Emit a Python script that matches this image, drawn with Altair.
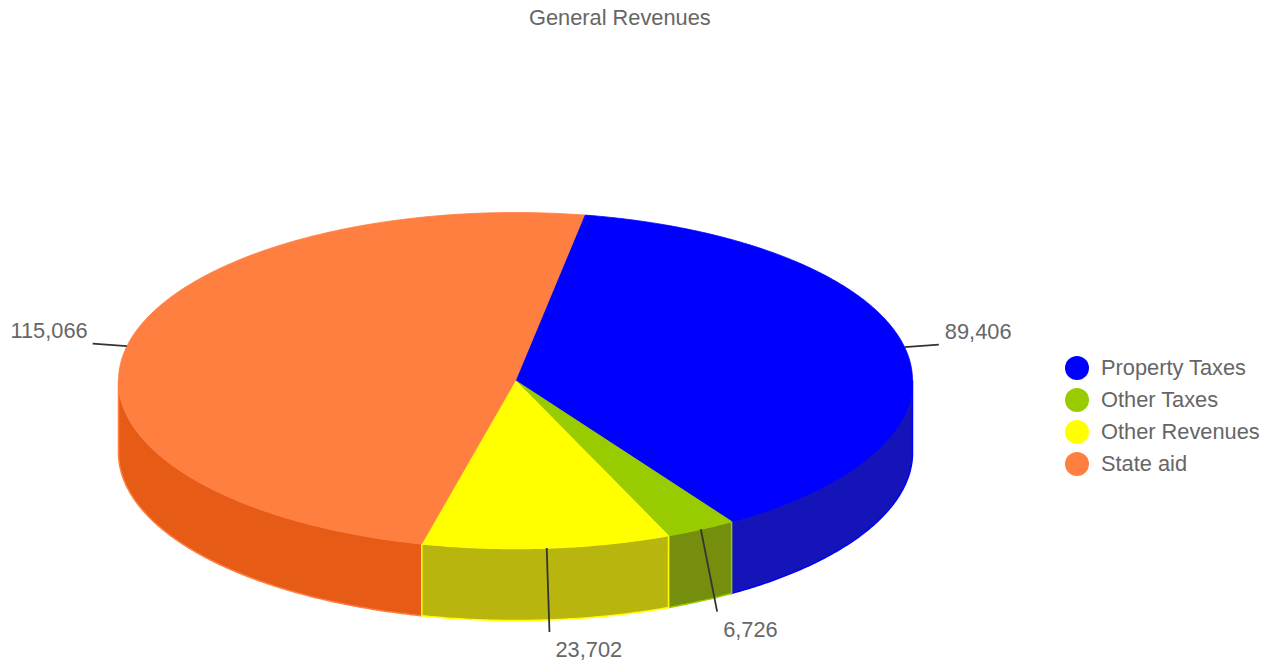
import math
import altair as alt

names = ["Property Taxes", "Other Taxes", "Other Revenues", "State aid"]
values = [89406, 6726, 23702, 115066]
top_colors = ["#0000FF", "#99CC00", "#FFFF00", "#FF7F41"]
side_colors = ["#1414B8", "#758E0D", "#B8B50F", "#E65C17"]
# walls are painted in this order so the lighter edges stay on top
side_order = [3, 0, 1, 2]

W, H = 1273, 661
CX, CY = 515.5, 380.5
RX, RY, DEPTH = 397, 168, 72
LABEL_RX, LABEL_RY = 432, 180
START_ANGLE = 10
FONT_SIZE = 21.8


def point(angle, rx=RX, ry=RY, drop=0):
    rad = math.radians(angle)
    return [round(CX + rx * math.sin(rad), 2), round(CY - ry * math.cos(rad) + drop, 2)]


def arc(a, b, drop=0):
    steps = max(2, int(abs(b - a) * 2))
    return [point(a + (b - a) * i / steps, drop=drop) for i in range(steps + 1)]


def feature(ring, **props):
    return {
        "type": "Feature",
        "properties": props,
        "geometry": {"type": "Polygon", "coordinates": [ring + [ring[0]]]},
    }


total = sum(values)
spans = []
angle = START_ANGLE
for v in values:
    spans.append((angle, angle + v / total * 360))
    angle = spans[-1][1]

top_features = []
for name, color, (a, b) in zip(names, top_colors, spans):
    top_features.append(feature([[CX, CY]] + arc(a, b), name=name, edge=color))

wall_features = []
for i in side_order:
    a, b = max(spans[i][0], 90), min(spans[i][1], 270)
    ring = arc(a, b) + arc(b, a, drop=DEPTH)
    wall_features.append(feature(ring, fill=side_colors[i], edge=top_colors[i]))

connectors = []
for name, v, (a, b) in zip(names, values, spans):
    mid = (a + b) / 2
    front = math.cos(math.radians(mid)) < -0.5
    x0, y0 = point(mid)
    x1, y1 = point(mid, LABEL_RX, LABEL_RY, DEPTH if front else 0)
    right = x1 > CX
    connectors.append({
        "name": name, "x0": x0, "y0": y0, "x1": x1, "y1": y1,
        "tx": x1 + (6 if right else -5),
        "ty": y1 + (18 if front else -12.5),
        "side": "right" if right else "left",
        "label": f"{v:,}",
    })

projection = alt.Projection(type="identity", scale=1, translate=[0, 0])
x_scale = alt.Scale(domain=[0, W], range=[0, W])
y_scale = alt.Scale(domain=[0, H], range=[0, H])

walls = alt.Chart(alt.Data(values=wall_features)).mark_geoshape(strokeWidth=1.5).encode(
    color=alt.Color("properties.fill:N", scale=None, legend=None),
    stroke=alt.Stroke("properties.edge:N", scale=None, legend=None),
).project(**projection.to_dict())

tops = alt.Chart(alt.Data(values=top_features)).mark_geoshape(strokeWidth=0.8).encode(
    color=alt.Color(
        "properties.name:N",
        scale=alt.Scale(domain=names, range=top_colors),
        sort=names,
        legend=alt.Legend(
            title=None,
            orient="none",
            legendX=1065,
            legendY=356,
            symbolType="circle",
            symbolSize=576,
            symbolStrokeWidth=0,
            symbolOpacity=1,
            rowPadding=8,
            labelFont="Liberation Sans",
            labelFontSize=FONT_SIZE,
            labelColor="#666666",
            labelOffset=12,
            labelLimit=220,
        ),
    ),
    stroke=alt.Stroke("properties.edge:N", scale=None, legend=None),
).project(**projection.to_dict())

lines = alt.Chart(alt.Data(values=connectors)).mark_rule(color="#333333", strokeWidth=1.8).encode(
    x=alt.X("x0:Q", scale=x_scale, axis=None),
    y=alt.Y("y0:Q", scale=y_scale, axis=None),
    x2="x1:Q",
    y2="y1:Q",
)

left_labels, right_labels = [
    alt.Chart(alt.Data(values=[c for c in connectors if c["side"] == side])).mark_text(
        align=align, baseline="middle", font="Liberation Sans", fontSize=FONT_SIZE, color="#666666"
    ).encode(
        x=alt.X("tx:Q", scale=x_scale, axis=None),
        y=alt.Y("ty:Q", scale=y_scale, axis=None),
        text="label:N",
    )
    for side, align in (("left", "right"), ("right", "left"))
]

chart = (
    alt.layer(walls, tops, lines, left_labels, right_labels)
    .resolve_scale(color="independent", stroke="independent")
    .properties(
        width=W,
        height=H,
        padding=0,
        autosize=alt.AutoSizeParams(type="none"),
        title=alt.Title(
            "General Revenues",
            anchor="start",
            frame="group",
            orient="top",
            offset=-28,
            dx=529,
            dy=19,
            baseline="alphabetic",
            font="Liberation Sans",
            fontSize=FONT_SIZE,
            fontWeight="normal",
            color="#666666",
        ),
    )
    .configure_view(stroke=None)
)

chart.save("out.html", embed_options={"renderer": "svg", "actions": False})
